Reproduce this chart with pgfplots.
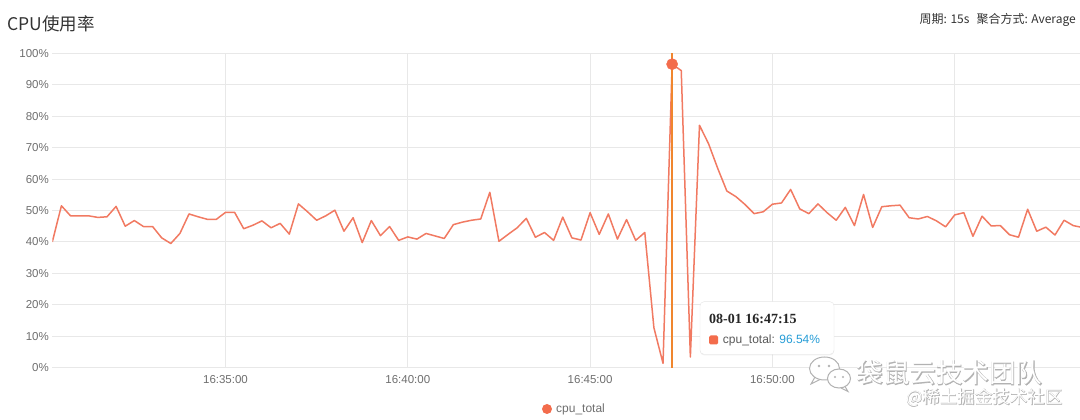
\documentclass[border=0pt]{standalone}
\usepackage{pgfplots}
\pgfplotsset{compat=1.18}
\usepackage{pgfplotstable}
\usepackage{fontspec}
\setmainfont{Liberation Sans}
\newfontfamily\cjk{Noto Sans CJK SC}
\newfontfamily\cjkbold[FakeBold=2.6]{Noto Sans CJK SC}
\newfontfamily\serif{Liberation Serif}
\usetikzlibrary{shadows}
\definecolor{linec}{RGB}{241,122,98}
\definecolor{hoverc}{RGB}{240,134,46}
\definecolor{dotc}{RGB}{243,108,76}
\definecolor{gridc}{RGB}{232,232,232}
\definecolor{labc}{RGB}{110,110,110}
\definecolor{tipblue}{RGB}{38,157,215}
\definecolor{wmc}{RGB}{178,178,178}
\definecolor{titc}{RGB}{51,51,51}

\pgfplotstableread{
m v
0.25 40.0
0.50 51.5
0.75 48.3
1.00 48.3
1.25 48.3
1.50 47.8
1.75 48.0
2.00 51.3
2.25 45.0
2.50 46.8
2.75 44.9
3.00 44.9
3.25 41.3
3.50 39.5
3.75 42.7
4.00 48.9
4.25 48.0
4.50 47.2
4.75 47.2
5.00 49.4
5.25 49.4
5.50 44.2
5.75 45.3
6.00 46.7
6.25 44.5
6.50 45.9
6.75 42.5
7.00 52.1
7.25 49.6
7.50 46.9
7.75 48.3
8.00 50.1
8.25 43.4
8.50 47.7
8.75 39.8
9.00 46.8
9.25 42.0
9.50 44.9
9.75 40.5
10.00 41.6
10.25 40.9
10.50 42.7
10.75 41.9
11.00 41.1
11.25 45.5
11.50 46.3
11.75 46.9
12.00 47.3
12.25 55.8
12.50 40.2
12.75 42.4
13.00 44.5
13.25 47.5
13.50 41.5
13.75 43.0
14.00 40.5
14.25 47.9
14.50 41.3
14.75 40.6
15.00 49.3
15.25 42.4
15.50 48.9
15.75 40.9
16.00 47.1
16.25 40.5
16.50 43.0
16.75 12.7
17.00 1.4
17.25 96.54
17.50 94.5
17.75 3.4
18.00 77.1
18.25 71.2
18.50 63.4
18.75 56.2
19.00 54.4
19.25 51.9
19.50 49.0
19.75 49.6
20.00 52.0
20.25 52.4
20.50 56.7
20.75 50.5
21.00 49.0
21.25 52.1
21.50 49.3
21.75 46.9
22.00 51.0
22.25 45.2
22.50 55.1
22.75 44.6
23.00 51.2
23.25 51.5
23.50 51.7
23.75 47.7
24.00 47.3
24.25 48.1
24.50 46.7
24.75 44.8
25.00 48.6
25.25 49.3
25.50 41.8
25.75 48.2
26.00 45.1
26.25 45.2
26.50 42.3
26.75 41.5
27.00 50.4
27.25 43.4
27.50 44.7
27.75 42.2
28.00 46.9
28.25 45.2
28.50 44.6
}\cpudata

\begin{document}
\begin{tikzpicture}
\path[use as bounding box] (0,0) rectangle (1080pt,420pt);
\begin{axis}[
  at={(52.3pt,52.3pt)}, anchor=south west,
  scale only axis, width=1027.7pt, height=314.4pt,
  xmin=0.25, xmax=28.437, ymin=0, ymax=100,
  axis line style={draw=none},
  tick style={draw=none},
  xtick={5,10,15,20,25},
  xticklabels={16:35:00,16:40:00,16:45:00,16:50:00,{}},
  ytick={0,10,...,100},
  yticklabel={\pgfmathprintnumber{\tick}\%},
  xmajorgrids, ymajorgrids,
  major grid style={draw=gridc, line width=1pt},
  ticklabel style={font=\fontsize{11.5}{13}\selectfont, text=labc},
  yticklabel style={anchor=east, inner sep=0pt, xshift=-3.3pt},
  xticklabel style={anchor=base, inner sep=0pt, yshift=-16.3pt},
  /pgf/number format/assume math mode=true,
]
\addplot[linec, line width=1.5pt, line join=round, no markers] table[x=m,y=v]{\cpudata};
\addplot[hoverc, line width=1.3pt, no markers] coordinates {(17.25,0) (17.25,100)};
\addplot[only marks, mark=*, mark size=5.6pt, mark options={fill=dotc, draw=dotc}] coordinates {(17.25,96.54)};
\end{axis}

% title and header
\node[anchor=west, inner sep=0, text=titc] at (7pt,396pt) {\cjk\fontsize{17.5}{20}\selectfont CPU使用率};
\node[anchor=east, inner sep=0, text=titc] at (1076pt,400pt) {\cjk\fontsize{12}{14}\selectfont 周期: 15s\hspace{7pt}聚合方式: Average};

% watermark
\draw[wmc, fill=white, line width=1pt] (824.5pt,51.5pt) ellipse (15pt and 11.5pt);
\draw[wmc, line width=1pt] (815pt,43pt) -- (811pt,36pt) -- (820pt,40.5pt);
\draw[wmc, fill=white, line width=1pt] (839pt,41.5pt) ellipse (11.5pt and 9.5pt);
\draw[wmc, line width=1pt] (845pt,33.5pt) -- (848pt,28.5pt) -- (841pt,32pt);
\fill[wmc] (819pt,54pt) circle (1.4pt);
\fill[wmc] (829pt,54pt) circle (1.4pt);
\fill[wmc] (835pt,43pt) circle (1.2pt);
\fill[wmc] (843pt,43pt) circle (1.2pt);
\node[anchor=base west, inner sep=0, text=wmc] at (856.7pt,37pt) {\cjkbold\fontsize{26.5}{30}\selectfont 袋鼠云技术团队};
\node[anchor=base west, inner sep=0, text=white] at (856.7pt,37pt) {\cjk\fontsize{26.5}{30}\selectfont 袋鼠云技术团队};
\node[anchor=base west, inner sep=0, text=wmc] at (906pt,16.4pt) {\cjkbold\fontsize{17.5}{20}\selectfont @稀土掘金技术社区};
\node[anchor=base west, inner sep=0, text=white] at (906pt,16.4pt) {\cjk\fontsize{17.5}{20}\selectfont @稀土掘金技术社区};

% tooltip
\draw[draw=black!10, fill=white, rounded corners=4pt, drop shadow={shadow xshift=0pt, shadow yshift=-1pt, opacity=0.12}] (700pt,65.7pt) rectangle (834pt,118.3pt);
\node[anchor=west, inner sep=0, text=black!85] at (709pt,101pt) {\serif\bfseries\fontsize{14}{16}\selectfont 08-01 16:47:15};
\fill[dotc, rounded corners=1.5pt] (709pt,75.5pt) rectangle (718pt,84.5pt);
\node[anchor=west, inner sep=0, text=black!65] at (722.7pt,79.5pt) {\fontsize{12}{14}\selectfont cpu\_total: \textcolor{tipblue}{96.54\%}};

% legend
\fill[dotc] (547pt,11pt) circle (5pt);
\node[anchor=west, inner sep=0, text=labc] at (556pt,11pt) {\fontsize{12}{14}\selectfont cpu\_total};
\end{tikzpicture}
\end{document}
